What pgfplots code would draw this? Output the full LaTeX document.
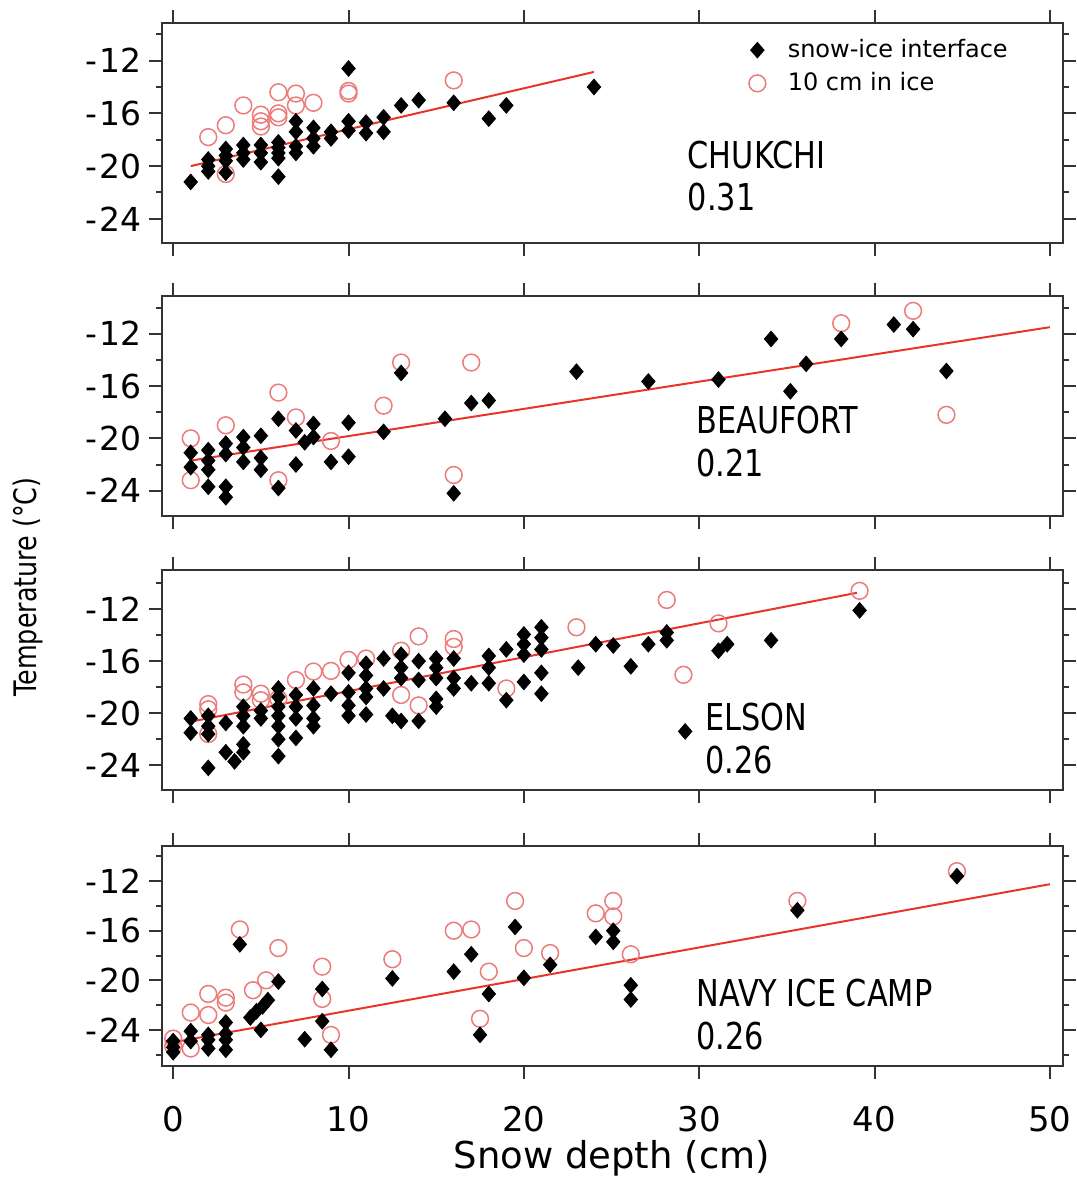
\documentclass[border=0pt]{standalone}
\usepackage{fontspec}
\setmainfont{DejaVu Sans}
\newfontfamily\lab{DejaVu Sans}[FakeStretch=0.82]
\usepackage{pgfplots}
\pgfplotsset{compat=1.18}
\definecolor{fitred}{HTML}{E8352B}
\definecolor{ringred}{HTML}{EC7B7B}
\definecolor{frame}{HTML}{333333}

\tikzset{
  tag/.style={anchor=base west, fill=white, inner sep=2pt,
    font=\lab\fontsize{18.5}{20}\selectfont},
}
\pgfplotsset{
  panel/.style={
    scale only axis, width=450.6pt, height=110pt,
    xmin=-0.65, xmax=50.75,
    xtick={0,10,20,30,40,50}, xticklabels={},
    ytick={-24,-20,-16,-12},
    yticklabels={-\kern1pt 24,-\kern1pt 20,-\kern1pt 16,-\kern1pt 12},
    minor ytick={-26,-22,-18,-14,-10},
    tick align=outside, tick pos=both,
    major tick length=6.5pt, minor tick length=2.8pt,
    axis line style={frame, line width=1pt},
    tick style={frame, line width=1pt},
    yticklabel style={font=\fontsize{16.5}{18}\selectfont},
    anchor=north west,
  },
  snow/.style={only marks, mark=diamond*, mark size=3.9pt, black,
    mark options={fill=black, xscale=1.15}},
  ring/.style={only marks, mark=o, mark size=4.2pt, ringred,
    mark options={line width=0.75pt}},
  fit/.style={fitred, line width=1pt, no marks, forget plot},
}

\begin{document}
\begin{tikzpicture}

% CHUKCHI
\begin{axis}[panel, name=p1, at={(0pt,0pt)}, ymin=-25.86, ymax=-9.18,
  reverse legend,
  legend image code/.code={\path (-6pt,0pt) (13pt,0pt);
    \draw[#1] plot coordinates {(0pt,0pt)};},
  legend cell align=left,
  legend style={at={(0.64,0.965)}, anchor=north west, draw=none, fill=none,
    font=\fontsize{12}{14}\selectfont, row sep=2pt}]
\addplot[ring] coordinates {(2,-17.8)(3,-16.9)(3,-20.6)(4,-15.4)(5,-16.1)(5,-16.6)(5,-17.0)(6,-14.4)(6,-16.0)(6,-16.3)(7,-14.5)(7,-15.4)(8,-15.2)(10,-14.3)(10,-14.5)(16,-13.5)};
\addlegendentry{10 cm in ice}
\addplot[snow] coordinates {(1,-21.2)(2,-19.5)(2,-20.0)(2,-20.4)(3,-18.7)(3,-19.2)(3,-19.6)(3,-20.5)(4,-18.4)(4,-19.0)(4,-19.5)(5,-18.4)(5,-19.0)(5,-19.7)(6,-18.2)(6,-18.6)(6,-19.0)(6,-19.4)(6,-20.8)(7,-16.6)(7,-17.4)(7,-18.5)(7,-19.0)(8,-17.1)(8,-17.9)(8,-18.5)(9,-17.4)(9,-17.9)(10,-12.6)(10,-16.6)(10,-17.3)(11,-16.7)(11,-17.5)(12,-16.3)(12,-17.4)(13,-15.4)(14,-15.0)(16,-15.2)(18,-16.4)(19,-15.4)(24,-14.0)};
\addlegendentry{snow-ice interface}
\addplot[fit] coordinates {(1,-20.0)(24,-12.86)};
\node[tag] at (axis cs:29.1,-20.2) {CHUKCHI};
\node[tag] at (axis cs:29.1,-23.35) {0.31};
\end{axis}

% BEAUFORT
\begin{axis}[panel, name=p2, at={(0pt,-136.2pt)}, ymin=-25.92, ymax=-9.1]
\addplot[ring] coordinates {(1,-20.0)(1,-23.2)(3,-19.0)(6,-16.5)(6,-23.2)(7,-18.4)(9,-20.2)(12,-17.5)(13,-14.2)(16,-22.8)(17,-14.2)(38.1,-11.2)(42.2,-10.25)(44.1,-18.2)};
\addplot[snow] coordinates {(1,-21.1)(1,-22.2)(2,-20.9)(2,-21.7)(2,-22.4)(2,-23.7)(3,-20.4)(3,-21.2)(3,-23.7)(3,-24.5)(4,-19.9)(4,-20.7)(4,-21.8)(5,-19.8)(5,-21.5)(5,-22.4)(6,-18.5)(6,-23.8)(7,-19.4)(7,-22.0)(7.5,-20.3)(8,-18.9)(8,-19.9)(9,-21.8)(10,-18.8)(10,-21.4)(12,-19.5)(13,-15.0)(15.5,-18.5)(16,-24.2)(17,-17.3)(18,-17.1)(23,-14.9)(27.1,-15.65)(31.1,-15.5)(34.1,-12.4)(35.2,-16.4)(36.1,-14.3)(38.1,-12.4)(41.1,-11.3)(42.2,-11.65)(44.1,-14.85)};
\addplot[fit] coordinates {(1,-21.7)(50,-11.5)};
\node[tag] at (axis cs:29.6,-19.6) {BEAUFORT};
\node[tag] at (axis cs:29.6,-22.9) {0.21};
\end{axis}

% ELSON
\begin{axis}[panel, name=p3, at={(0pt,-273.3pt)}, ymin=-25.9, ymax=-9.0]
\addplot[ring] coordinates {(2,-19.3)(2,-19.7)(2,-21.6)(4,-17.8)(4,-18.4)(5,-18.5)(5,-19.0)(6,-18.9)(7,-17.45)(8,-16.8)(9,-16.75)(10,-15.9)(11,-15.8)(13,-15.2)(13,-18.6)(14,-14.1)(14,-19.4)(16,-14.3)(16,-14.9)(19,-18.1)(23,-13.4)(28.15,-11.3)(29.1,-17.05)(31.1,-13.1)(39.15,-10.6)};
\addplot[snow] coordinates {(1,-20.4)(1,-21.5)(2,-20.2)(2,-21.0)(2,-21.6)(2,-24.2)(3,-20.75)(3,-23.0)(3.5,-23.7)(4,-19.5)(4,-20.2)(4,-21.0)(4,-22.4)(4,-23.0)(5,-19.8)(5,-20.4)(6,-18.1)(6,-18.75)(6,-19.5)(6,-20.2)(6,-21.0)(6,-22.0)(6,-23.3)(7,-18.6)(7,-19.5)(7,-20.4)(7,-21.9)(8,-18.1)(8,-19.4)(8,-20.4)(8,-21.0)(9,-18.5)(10,-16.9)(10,-18.4)(10,-19.4)(10,-20.2)(11,-16.2)(11,-17.1)(11,-18.1)(11,-18.75)(11,-20.1)(12,-15.8)(12,-18.1)(12.5,-20.2)(13,-15.5)(13,-16.5)(13,-17.3)(13,-20.6)(14,-16.0)(14,-17.45)(14,-20.6)(15,-15.8)(15,-16.5)(15,-17.3)(15,-18.9)(15,-19.5)(16,-15.8)(16,-17.3)(16,-18.1)(17,-17.7)(18,-15.6)(18,-16.5)(18,-17.7)(19,-15.1)(19,-19.0)(20,-13.95)(20,-14.7)(20,-15.5)(20,-17.6)(21,-13.4)(21,-14.2)(21,-15.1)(21,-16.9)(21,-18.5)(23.1,-16.5)(24.1,-14.7)(25.1,-14.8)(26.1,-16.4)(27.1,-14.7)(28.15,-14.4)(28.15,-13.8)(29.2,-21.4)(31.1,-15.2)(31.6,-14.7)(34.1,-14.4)(39.15,-12.1)};
\addplot[fit] coordinates {(1,-20.65)(39,-10.75)};
\node[tag] at (axis cs:30.1,-21.36) {ELSON};
\node[tag] at (axis cs:30.1,-24.6) {0.26};
\end{axis}

% NAVY ICE CAMP
\begin{axis}[panel, name=p4, at={(0pt,-411.05pt)}, ymin=-26.87, ymax=-9.13,
  xticklabels={0,10,20,30,40,50},
  xticklabel style={font=\fontsize{17}{19}\selectfont, yshift=-10.5pt}]
\addplot[ring] coordinates {(0,-24.7)(0,-25.3)(1,-22.6)(1,-25.5)(2,-21.1)(2,-22.8)(3,-21.4)(3,-21.8)(3.8,-15.9)(4.55,-20.8)(5.3,-20.0)(6,-17.4)(8.5,-18.9)(8.5,-21.5)(9,-24.4)(12.5,-18.3)(16,-16.0)(17,-15.9)(17.5,-23.1)(18,-19.3)(19.5,-13.6)(20,-17.4)(21.5,-17.8)(24.1,-14.6)(25.1,-13.6)(25.1,-14.85)(26.1,-17.9)(35.6,-13.6)(44.7,-11.2)};
\addplot[snow] coordinates {(0,-24.9)(0,-25.4)(0,-25.8)(1,-24.1)(1,-24.9)(2,-24.4)(2,-24.8)(2,-25.5)(3,-23.4)(3,-24.3)(3,-24.8)(3,-25.6)(3.8,-17.1)(4.4,-23.0)(4.75,-22.5)(5.1,-22.1)(5.4,-21.6)(5,-24.0)(6,-20.1)(7.5,-24.75)(8.5,-20.7)(8.5,-23.3)(9,-25.6)(12.5,-19.85)(16,-19.3)(17,-17.9)(17.5,-24.4)(18,-21.1)(19.5,-15.7)(20,-19.8)(21.5,-18.75)(24.1,-16.5)(25.1,-16.0)(25.1,-16.9)(26.1,-20.4)(26.1,-21.55)(35.6,-14.35)(44.7,-11.6)};
\addplot[fit] coordinates {(0,-25.0)(50,-12.25)};
\node[tag] at (axis cs:29.6,-22.1) {NAVY ICE CAMP};
\node[tag] at (axis cs:29.6,-25.6) {0.26};
\end{axis}

\node[rotate=90, font=\lab\fontsize{15.5}{17}\selectfont]
  at ([xshift=-66.9pt,yshift=-281.8pt]p1.north west) {Temperature (°C)};
\node[anchor=base, inner sep=0pt, font=\fontsize{18.5}{20}\selectfont]
  at ([xshift=225pt,yshift=-51.5pt]p4.south west) {Snow depth (cm)};

\pgfresetboundingbox
\path[use as bounding box] ([xshift=-80.9pt,yshift=11.7pt]p1.north west) rectangle ++(538.5pt,-589.5pt);
\end{tikzpicture}
\end{document}
